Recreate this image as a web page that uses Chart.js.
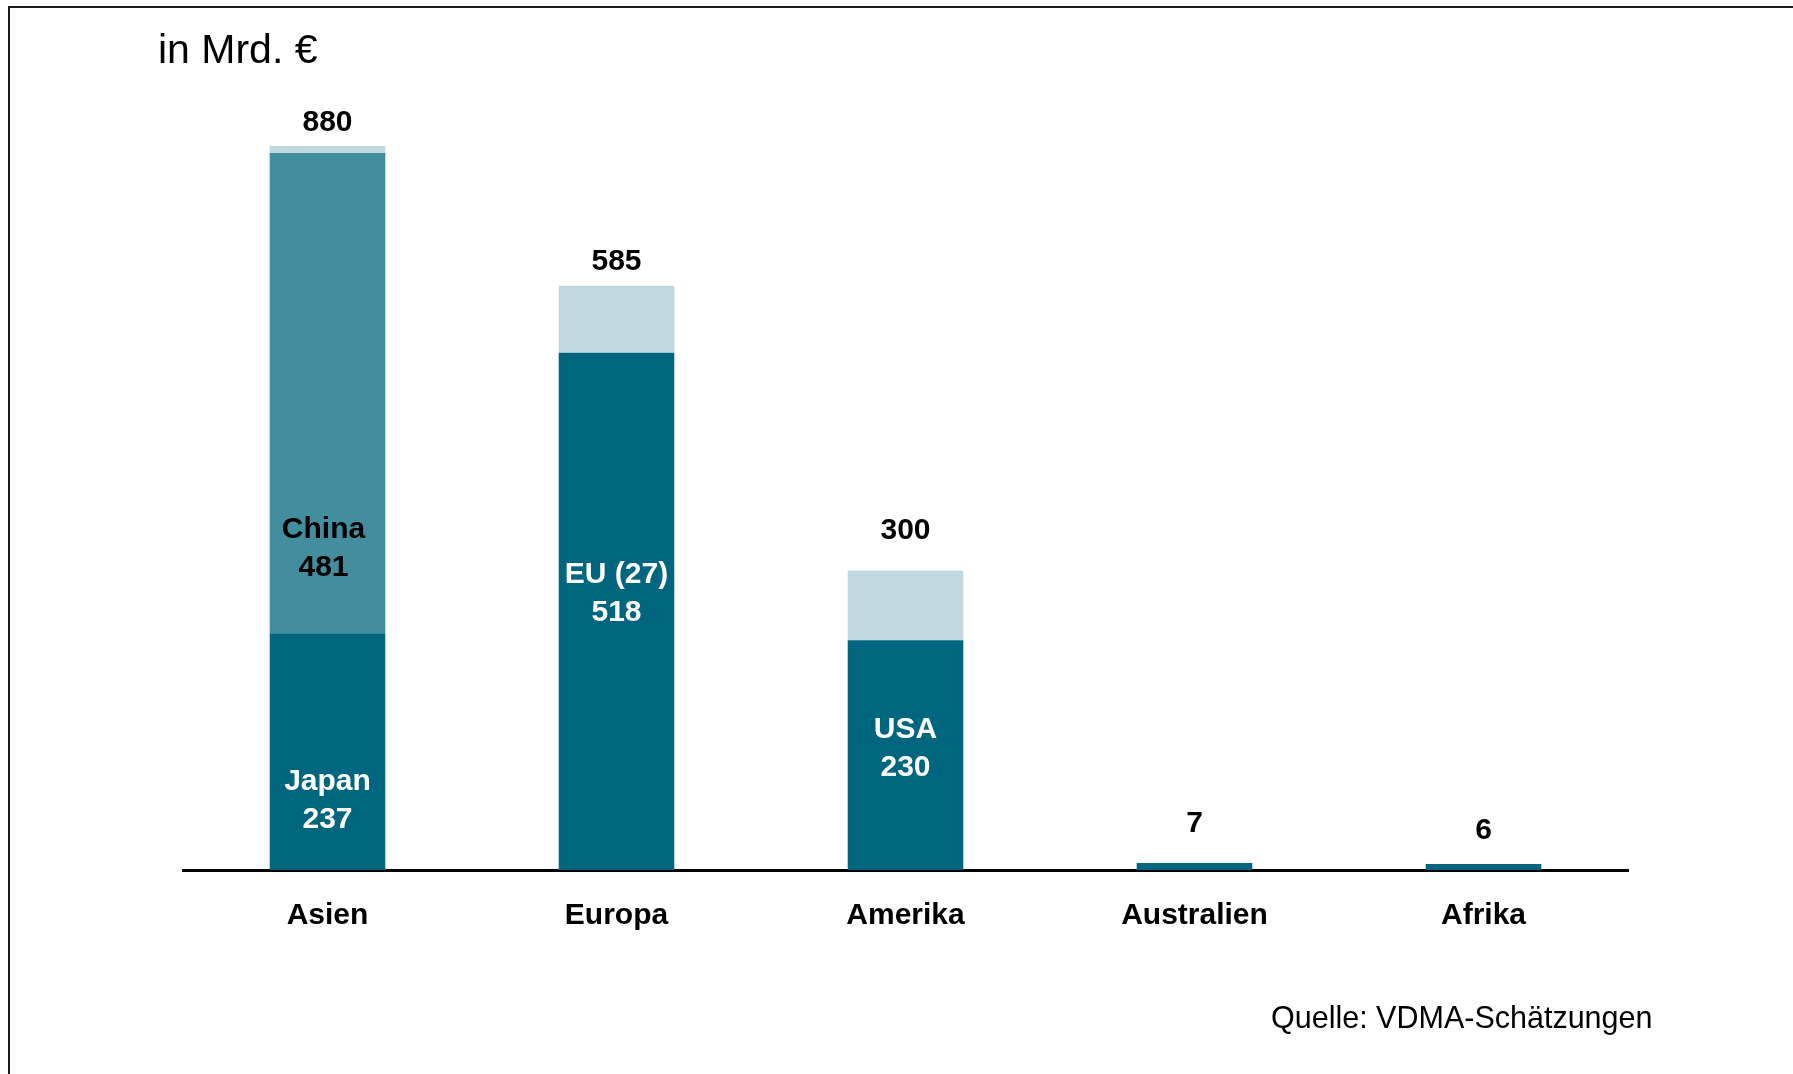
<!DOCTYPE html>
<html>
<head>
<meta charset="utf-8">
<script src="https://cdn.jsdelivr.net/npm/chart.js@4"></script>
<style>
  html, body { margin: 0; padding: 0; background: #fff; }
  #frame {
    position: absolute; left: 8px; top: 6px; width: 1800px; height: 1100px;
    border-left: 2px solid #1a1a1a; border-top: 2px solid #1a1a1a;
  }
  #wrap { position: absolute; left: 0; top: 0; width: 1793px; height: 1074px; }
</style>
</head>
<body>
<div id="frame"></div>
<div id="wrap"><canvas id="chart1"></canvas></div>
<script>
const regions = ["Asien", "Europa", "Amerika", "Australien", "Afrika"];
// main country (Japan, EU, USA) / whole region for the small ones
const mainValues = [237, 518, 230, 7, 6];
const chinaValues = [481, 0, 0, 0, 0];
const restValues = [162, 67, 70, 0, 0];
const totals = [880, 585, 300, 7, 6];
const mainNames = ["Japan", "EU (27)", "USA", "", ""];
const chinaNames = ["China", "", "", "", ""];

const font = "'Liberation Sans', Arial, sans-serif";

// label layout: where the inner labels sit (value on the y scale),
// and how far the totals float above their bar (px)
const mainLabelAt = [69, 277, 121];
const chinaLabelAt = [322];
const totalGap = [23, 24, 40, 39, 33];

const labelsPlugin = {
  id: "labels",
  afterDatasetsDraw(chart) {
    const ctx = chart.ctx;
    const y = chart.scales.y;
    ctx.save();
    ctx.font = "bold 30px " + font;
    ctx.textAlign = "center";
    ctx.textBaseline = "middle";

    const top = chart.getDatasetMeta(2).data;
    const base = chart.getDatasetMeta(0).data;
    totals.forEach((t, i) => {
      const bar = top[i].height > 0 ? top[i] : base[i];
      const yy = Math.max(bar.y, chart.chartArea.top);
      ctx.fillStyle = "#000";
      ctx.fillText(String(t), bar.x, yy - totalGap[i]);
    });

    mainLabelAt.forEach((v, i) => {
      const cy = y.getPixelForValue(v);
      ctx.fillStyle = "#fff";
      ctx.fillText(mainNames[i], base[i].x, cy - 19);
      ctx.fillText(String(mainValues[i]), base[i].x, cy + 19);
    });
    chinaLabelAt.forEach((v, i) => {
      const cy = y.getPixelForValue(v);
      ctx.fillStyle = "#000";
      ctx.fillText(chinaNames[i], base[i].x - 4, cy - 19);
      ctx.fillText(String(chinaValues[i]), base[i].x - 4, cy + 19);
    });

    ctx.textAlign = "left";
    ctx.font = "41px " + font;
    ctx.fillText("in Mrd. €", 158, 52);
    ctx.font = "30.5px " + font;
    ctx.fillText("Quelle: VDMA-Schätzungen", 1271, 1020);
    ctx.restore();
  },
};

const data1 = {
  labels: regions,
  datasets: [
    { label: "Land", data: mainValues, backgroundColor: "#00657F" },
    { label: "China", data: chinaValues, backgroundColor: "#428E9F" },
    { label: "Übrige", data: restValues, backgroundColor: "#C0D9E0" },
  ],
};

const config1 = {
  type: "bar",
  data: data1,
  options: {
    responsive: true,
    maintainAspectRatio: false,
    animation: false,
    datasets: { bar: { barPercentage: 0.4, categoryPercentage: 1, clip: 0 } },
    layout: { padding: { left: 183, right: 165, top: 146, bottom: 112 } },
    plugins: { legend: { display: false }, tooltip: { enabled: false } },
    scales: {
      x: {
        stacked: true,
        grid: { display: false, drawTicks: false },
        border: { display: true, color: "#000", width: 3 },
        ticks: { color: "#000", padding: 28, font: { family: font, size: 30, weight: "bold" } },
      },
      y: { stacked: true, display: false, min: 0, max: 725 },
    },
  },
  plugins: [labelsPlugin],
};
const myChart = new Chart(document.getElementById("chart1"), config1);
</script>
</body>
</html>
